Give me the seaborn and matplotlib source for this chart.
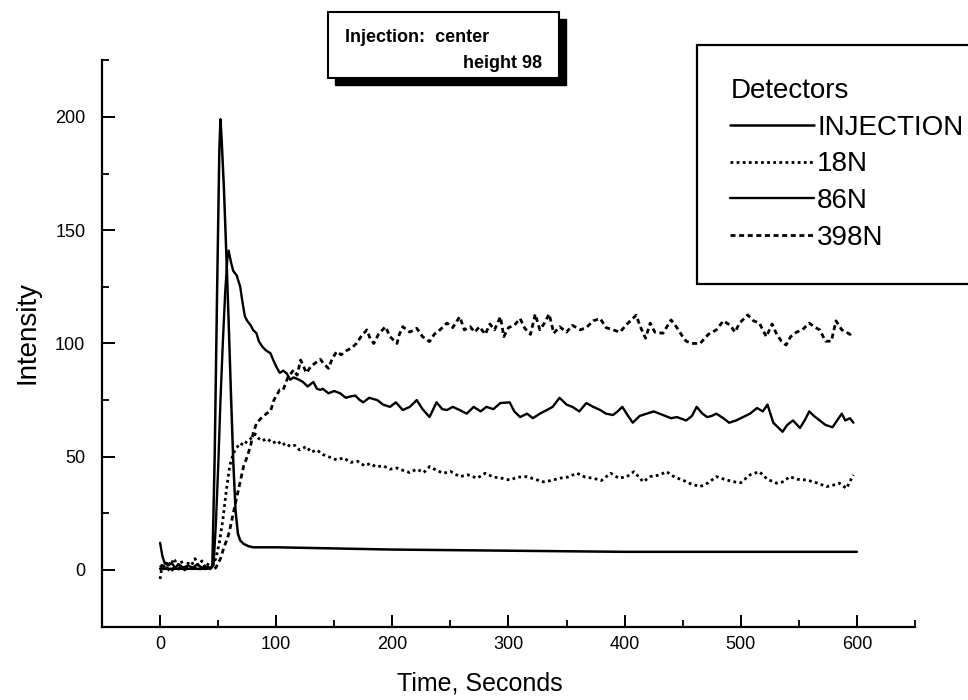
import matplotlib
matplotlib.use("Agg")
import matplotlib.pyplot as plt
import matplotlib.patches as mpatches
from matplotlib.ticker import MultipleLocator
import seaborn as sns

# ---------------- datos ----------------
t_inj = [0, 10, 20, 30, 40, 44, 45, 47, 49, 51,
         52, 53, 55, 57, 59, 61, 63, 65, 67, 69,
         72, 76, 80, 90, 100, 150, 200, 300, 400, 500,
         600]
v_inj = [0.5, 0.5, 0.5, 0.5, 0.5, 0.8, 2, 50, 120, 185,
         199, 190, 168, 140, 110, 78, 48, 26, 16, 13,
         11.5, 10.5, 10, 10, 10, 9.5, 9, 8.5, 8, 8,
         8]

t_18n = [0, 2, 4, 6, 9, 12, 15, 18, 21, 24,
         27, 30, 33, 36, 39, 42, 45, 48, 51, 54,
         57, 60, 63, 66, 69, 72, 75, 78, 82, 85,
         88, 92, 97, 101, 105, 108, 112, 116, 120, 126,
         130, 135, 140, 145, 152, 158, 164, 170, 176, 181,
         186, 192, 198, 204, 209, 215, 221, 227, 232, 238,
         244, 250, 258, 265, 273, 280, 287, 294, 301, 308,
         316, 323, 330, 337, 344, 351, 359, 366, 373, 380,
         388, 395, 402, 408, 416, 422, 430, 436, 443, 450,
         457, 465, 472, 479, 486, 493, 500, 508, 516, 523,
         531, 537, 542, 549, 557, 565, 574, 580, 585, 591,
         597]
v_18n = [-4, 3, 1, 4, 2, 5, 2, 4, 1, 3,
         2, 5, 2, 4, 1, 3, 2, 5, 12, 22,
         35, 46, 51.5, 54, 56, 55, 57, 58, 60, 58,
         57, 58, 56, 57, 55, 56, 54.5, 55, 53, 54.5,
         52, 53, 51, 50, 48.6, 49.5, 47.5, 48, 46, 47,
         45.5, 46, 44.5, 45, 44, 43, 44.5, 43, 45.6, 44,
         42.7, 43.5, 41.2, 42, 40.5, 42.7, 41, 40.5, 39.7, 41,
         41.2, 40, 38.9, 39.5, 40.5, 41, 42.7, 41, 40.5, 39.5,
         42.7, 40.5, 41.2, 43.4, 38.9, 41.2, 41.9, 43.4, 41, 39.7,
         38, 36.8, 38.5, 41.2, 40, 39, 38.5, 42, 43.4, 40,
         38.3, 39, 41.2, 40, 39.7, 38.5, 36.8, 37.5, 38.3, 36,
         42]

t_86n = [0, 2, 4, 7, 10, 13, 16, 20, 24, 28,
         32, 36, 40, 44, 46, 48, 50, 52, 54, 56,
         58, 59, 61, 63, 66, 69, 71, 73, 75, 78,
         80, 83, 85, 88, 91, 95, 98, 100, 103, 106,
         109, 112, 115, 120, 123, 127, 132, 135, 138, 140,
         145, 150, 155, 160, 163, 168, 172, 175, 180, 187,
         192, 198, 203, 209, 215, 221, 226, 232, 238, 243,
         247, 252, 258, 264, 270, 276, 281, 287, 293, 301,
         305, 310, 316, 321, 327, 333, 338, 344, 350, 355,
         361, 367, 373, 379, 384, 390, 394, 398, 403, 407,
         413, 419, 425, 433, 440, 445, 453, 458, 462, 467,
         471, 475, 479, 485, 490, 496, 502, 508, 514, 519,
         523, 528, 532, 536, 540, 545, 551, 555, 559, 563,
         568, 573, 579, 583, 587, 590, 594, 597]
v_86n = [12, 6, 3, 2, 3, 1, 2.5, 1, 2, 1,
         2.5, 1, 1.5, 1, 2, 20, 45, 75, 100, 122,
         138, 141, 136, 132, 130, 125, 118, 112, 110, 108,
         106, 104.5, 101, 98.6, 97, 95.7, 92, 89.8, 87, 88,
         86.8, 84, 85, 83.9, 83, 81, 83, 80, 79.5, 80,
         78, 79, 78, 76, 76.5, 77, 75, 74, 76, 75,
         73, 72, 74, 70.6, 72, 75, 71, 67.5, 74, 71,
         70.6, 72, 70.6, 69, 72, 70, 72, 71, 73.7, 74,
         70, 67.5, 69, 67, 69, 70.6, 72, 76, 73, 72,
         70, 73.7, 72, 70.6, 69, 68.4, 70, 72, 68, 65,
         68, 69, 70, 68.4, 67, 67.5, 66, 68, 72, 69,
         67.5, 68, 69, 67, 65, 66, 67.5, 69, 71.5, 70,
         73, 65, 63, 61, 64, 66, 62.7, 66, 70, 68,
         66, 64, 63, 66, 69, 66, 67, 65]

t_398n = [0, 3, 6, 9, 12, 15, 18, 21, 24, 27,
          30, 33, 36, 39, 42, 45, 48, 52, 55, 58,
          60, 63, 66, 69, 72, 75, 78, 80, 83, 87,
          92, 95, 98, 103, 106, 110, 115, 118, 121, 126,
          130, 138, 141, 145, 148, 152, 156, 161, 165, 169,
          173, 178, 181, 184, 188, 194, 198, 204, 206, 209,
          215, 221, 226, 232, 236, 241, 247, 252, 258, 262,
          267, 271, 275, 280, 284, 288, 293, 296, 300, 305,
          310, 314, 319, 323, 327, 331, 335, 339, 344, 350,
          355, 362, 367, 373, 379, 384, 390, 396, 401, 405,
          410, 413, 418, 422, 426, 433, 440, 445, 450, 453,
          458, 465, 472, 479, 485, 491, 495, 499, 506, 511,
          516, 522, 527, 531, 535, 539, 543, 548, 553, 559,
          563, 568, 573, 578, 582, 587, 591, 594, 597]
v_398n = [2, 0, 1, -1, 1, 0, 1.5, 0, 1, 0.5,
          1, 0, 1, 0.5, 1, 0, 1, 5, 10, 14,
          17.7, 25, 32, 39, 46, 50, 55, 60, 64.8, 67,
          69.2, 70, 75, 79.5, 79.5, 85, 88.3, 86, 92.7, 87,
          90, 93, 91, 89, 93, 96.4, 95, 97, 98, 100,
          103, 106, 102, 100, 104, 107.4, 103, 100, 104, 107.4,
          105, 106.7, 103, 100.8, 104, 106, 109, 107, 111.8, 106,
          107.4, 105, 107.4, 104, 108.6, 106, 111.8, 103, 107, 108,
          111, 106.7, 104, 113, 106, 109, 113, 104.5, 107.4, 105,
          108, 106, 107, 110, 111, 107, 106, 105, 108, 110,
          112.5, 108, 102.3, 109, 105, 104.5, 110.4, 107, 103, 101,
          100, 100, 104, 106, 110, 108, 105, 109, 112.6, 110,
          109, 103, 108.6, 104, 101, 99.3, 103, 105, 106, 109,
          107.4, 106, 101, 101, 110, 106, 105, 104, 105]

detector_labels = ["INJECTION", "18N", "86N", "398N"]
x_ticks = [0, 100, 200, 300, 400, 500, 600]
y_ticks = [0, 50, 100, 150, 200]

# ---------------- estilo ----------------
sns.set_style("ticks")
plt.rcParams["font.family"] = ["Liberation Sans", "DejaVu Sans"]
plt.rcParams.update({
    "text.color": "black",
    "axes.labelcolor": "black",
    "xtick.color": "black",
    "ytick.color": "black",
    "axes.edgecolor": "black",
})

fig = plt.figure(figsize=(9.68, 7), dpi=100)
ax = fig.add_axes([0.1054, 0.1049, 0.8398, 0.8089])

series = [
    (t_inj, v_inj, "-", 1.8),
    (t_18n, v_18n, (0, (1.0, 1.2)), 2.0),
    (t_86n, v_86n, "-", 1.7),
    (t_398n, v_398n, (0, (1.8, 1.3)), 2.0),
]
for (tt, vv, ls, lw), lab in zip(series, detector_labels):
    sns.lineplot(x=tt, y=vv, ax=ax, color="black", linestyle=ls,
                 linewidth=lw, label=lab, estimator=None, sort=False)

ax.set_xlim(-50, 650)
ax.set_ylim(-25, 225)
ax.set_xticks(x_ticks)
ax.set_yticks(y_ticks)
ax.xaxis.set_minor_locator(MultipleLocator(50))
ax.yaxis.set_minor_locator(MultipleLocator(25))
ax.tick_params(which="major", direction="in", length=9, width=1.4,
               labelsize=13, color="black", labelcolor="black")
ax.tick_params(which="minor", direction="in", length=5, width=1.3,
               color="black")
ax.tick_params(axis="y", which="major", pad=12)
ax.tick_params(axis="x", which="major", pad=7)

sns.despine(ax=ax)
for sp in ["left", "bottom"]:
    ax.spines[sp].set_linewidth(1.6)
    ax.spines[sp].set_color("black")

ax.set_xlabel("Time, Seconds", fontsize=18)
ax.set_ylabel("Intensity", fontsize=20)
ax.xaxis.set_label_coords(0.465, -0.080)
ax.yaxis.set_label_coords(-0.076, 0.52)

# ---------------- leyenda ----------------
handles = ax.get_lines()
leg = ax.legend(handles=list(handles), labels=detector_labels,
                title="Detectors", loc="upper left",
                bbox_to_anchor=(697 / 968, 1 - 45 / 700, 0.32, 0),
                bbox_transform=fig.transFigure, mode="expand",
                borderaxespad=0, frameon=True, fancybox=False,
                edgecolor="black", framealpha=1, fontsize=20,
                title_fontsize=20, handlelength=3.0, handletextpad=0.12,
                labelspacing=0.38, borderpad=1.2, alignment="left")
leg.get_frame().set_linewidth(1.6)
for txt in leg.get_texts():
    txt.set_color("black")
leg.get_title().set_color("black")

# ---------------- recuadro de inyeccion ----------------
shadow = mpatches.Rectangle((335 / 968, 1 - 85 / 700), 231 / 968, 66 / 700,
                            transform=fig.transFigure, facecolor="black",
                            edgecolor="black", zorder=5)
box = mpatches.Rectangle((328 / 968, 1 - 78 / 700), 231 / 968, 66 / 700,
                         transform=fig.transFigure, facecolor="white",
                         edgecolor="black", linewidth=1.5, zorder=6)
fig.add_artist(shadow)
fig.add_artist(box)
fig.text(345 / 968, 1 - 42 / 700, "Injection:  center", fontsize=13,
         fontweight="bold", va="baseline", zorder=7)
fig.text(542 / 968, 1 - 68 / 700, "height 98", fontsize=13,
         fontweight="bold", va="baseline", ha="right", zorder=7)

fig.savefig("out.png", dpi=100, facecolor="white")
